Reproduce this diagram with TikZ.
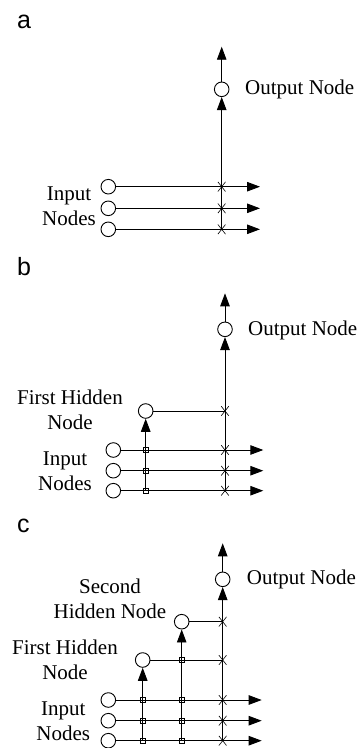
\documentclass[tikz,border=0pt]{standalone}
\usepackage{fontspec}
\setmainfont{Liberation Serif}
\newfontfamily\panelfont{Liberation Sans}
\usetikzlibrary{arrows.meta,shapes.misc}
\tikzset{
  circ/.style={circle, draw, line width=0.9pt, minimum size=14.6pt, inner sep=0pt, fill=white},
  wire/.style={line width=0.9pt},
  arr/.style={line width=0.9pt, -{Triangle[length=13pt,width=9.5pt]}},
  xmark/.style={cross out, draw, line width=0.6pt, minimum width=7pt, minimum height=9pt, inner sep=0pt},
  sqmark/.style={rectangle, draw, line width=0.6pt, minimum size=5pt, inner sep=0pt},
  lbl/.style={font=\fontsize{21}{25}\selectfont, align=center, inner sep=0pt},
  olbl/.style={font=\fontsize{21}{25}\selectfont, anchor=base west, inner sep=0pt},
  plbl/.style={font=\panelfont\fontsize{25}{30}\selectfont, anchor=base west, inner sep=0pt}
}
\begin{document}
\begin{tikzpicture}[x=1pt,y=-1pt]
\useasboundingbox (0,0) rectangle (360,748);
% ---------------- panel a ----------------
\node[plbl] (pa) at (17,28.3) {a};
\node[circ] (aout) at (221.7,89.3) {};
\coordinate (atop) at (221.7,46.7);
\node[circ] (ain1) at (108.3,186.7) {};
\node[circ] (ain2) at (108.3,208.3) {};
\node[circ] (ain3) at (108.3,229.3) {};
\coordinate (ae1) at (260,186.7);
\coordinate (ae2) at (260,208.3);
\coordinate (ae3) at (260,229.3);
\draw[arr] (aout) -- (atop);
\draw[arr] (ain1) -- (ae1);
\draw[arr] (ain2) -- (ae2);
\draw[arr] (ain3) -- (ae3);
\draw[arr] (ain3 -| aout) -- (aout);
\node[xmark] at (ain1 -| aout) {};
\node[xmark] at (ain2 -| aout) {};
\node[xmark] at (ain3 -| aout) {};
\node[olbl] (aoutl) at (245,94) {Output Node};
\node[lbl] (ainl) at (69,206) {Input\\Nodes};
% ---------------- panel b ----------------
\node[plbl] (pb) at (17,275) {b};
\node[circ] (bout) at (225,329.3) {};
\coordinate (btop) at (225,293.3);
\node[circ] (bh1) at (145.7,411) {};
\node[circ] (bin1) at (113.3,450) {};
\node[circ] (bin2) at (113.3,470.7) {};
\node[circ] (bin3) at (113.3,490.7) {};
\coordinate (be1) at (263.3,450);
\coordinate (be2) at (263.3,470.7);
\coordinate (be3) at (263.3,490.7);
\draw[arr] (bout) -- (btop);
\draw[arr] (bin1) -- (be1);
\draw[arr] (bin2) -- (be2);
\draw[arr] (bin3) -- (be3);
\draw[wire] (bh1) -- (bh1 -| bout);
\draw[arr] (bin3 -| bh1) -- (bh1);
\draw[arr] (bin3 -| bout) -- (bout);
\node[sqmark] at (bin1 -| bh1) {};
\node[sqmark] at (bin2 -| bh1) {};
\node[sqmark] at (bin3 -| bh1) {};
\node[xmark] at (bh1 -| bout) {};
\node[xmark] at (bin1 -| bout) {};
\node[xmark] at (bin2 -| bout) {};
\node[xmark] at (bin3 -| bout) {};
\node[olbl] (boutl) at (248,335) {Output Node};
\node[lbl] (bh1l) at (70,409.4) {First Hidden\\Node};
\node[lbl] (binl) at (65,470.9) {Input\\Nodes};
% ---------------- panel c ----------------
\node[plbl] (pc) at (17,532.3) {c};
\node[circ] (cout) at (222.7,579.3) {};
\coordinate (ctop) at (222.7,543.3);
\node[circ] (ch2) at (181.7,621.7) {};
\node[circ] (ch1) at (142.7,660) {};
\node[circ] (cin1) at (108.3,700) {};
\node[circ] (cin2) at (108.3,720.7) {};
\node[circ] (cin3) at (108.3,740.7) {};
\coordinate (ce1) at (261.7,700);
\coordinate (ce2) at (261.7,720.7);
\coordinate (ce3) at (261.7,740.7);
\draw[arr] (cout) -- (ctop);
\draw[arr] (cin1) -- (ce1);
\draw[arr] (cin2) -- (ce2);
\draw[arr] (cin3) -- (ce3);
\draw[wire] (ch2) -- (ch2 -| cout);
\draw[wire] (ch1) -- (ch1 -| cout);
\draw[arr] (cin3 -| ch1) -- (ch1);
\draw[arr] (cin3 -| ch2) -- (ch2);
\draw[arr] (cin3 -| cout) -- (cout);
\node[sqmark] at (cin1 -| ch1) {};
\node[sqmark] at (cin2 -| ch1) {};
\node[sqmark] at (cin3 -| ch1) {};
\node[sqmark] at (ch1 -| ch2) {};
\node[sqmark] at (cin1 -| ch2) {};
\node[sqmark] at (cin2 -| ch2) {};
\node[sqmark] at (cin3 -| ch2) {};
\node[xmark] at (ch2 -| cout) {};
\node[xmark] at (ch1 -| cout) {};
\node[xmark] at (cin1 -| cout) {};
\node[xmark] at (cin2 -| cout) {};
\node[xmark] at (cin3 -| cout) {};
\node[olbl] (coutl) at (246.7,584.5) {Output Node};
\node[lbl] (ch2l) at (110,598.7) {Second\\Hidden Node};
\node[lbl] (ch1l) at (65,659.4) {First Hidden\\Node};
\node[lbl] (cinl) at (63.3,720.9) {Input\\Nodes};
\end{tikzpicture}
\end{document}
